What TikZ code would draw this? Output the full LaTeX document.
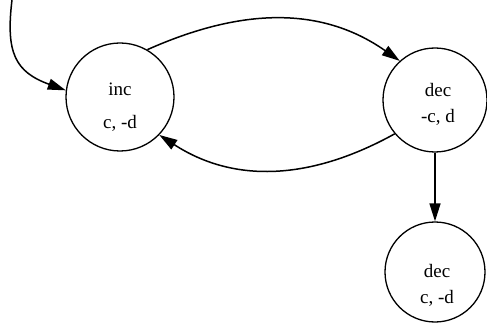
\documentclass[tikz,border=0pt]{standalone}
\usepackage{fontspec}
\setmainfont{Liberation Serif}
\usetikzlibrary{arrows.meta}
\begin{document}
\begin{tikzpicture}[x=1pt,y=1pt,
  state/.style={circle,draw,line width=1.3pt,inner sep=0pt},
  lbl/.style={anchor=base,inner sep=0pt,font=\fontsize{19}{22}\selectfont},
  arr/.style={line width=1.5pt,-{Triangle[length=18pt,width=11pt]}}]
\useasboundingbox (0,0) rectangle (487,335);
\node[state,minimum size=108pt] (inc) at (120,238) {};
\node[state,minimum size=104pt] (dec) at (435,235) {};
\node[state,minimum size=100pt] (dec2) at (435,63) {};
\node[lbl] (t1) at (120,239) {inc};
\node[lbl] (t2) at (120,206) {c, -d};
\node[lbl] (t3) at (438,238) {dec};
\node[lbl] (t4) at (438,212) {-c, d};
\node[lbl] (t5) at (437,58) {dec};
\node[lbl] (t6) at (437,32) {c, -d};
\coordinate (start) at (12,335);
\draw[arr] (start) to[out=-97,in=160,looseness=1.3] (inc.173);
\draw[arr] (inc.60) to[out=24,in=145] (dec.132);
\draw[arr] (dec.220) to[out=209,in=-33] (inc.316);
\draw[arr] (dec.south) -- (dec2.north);
\end{tikzpicture}
\end{document}
